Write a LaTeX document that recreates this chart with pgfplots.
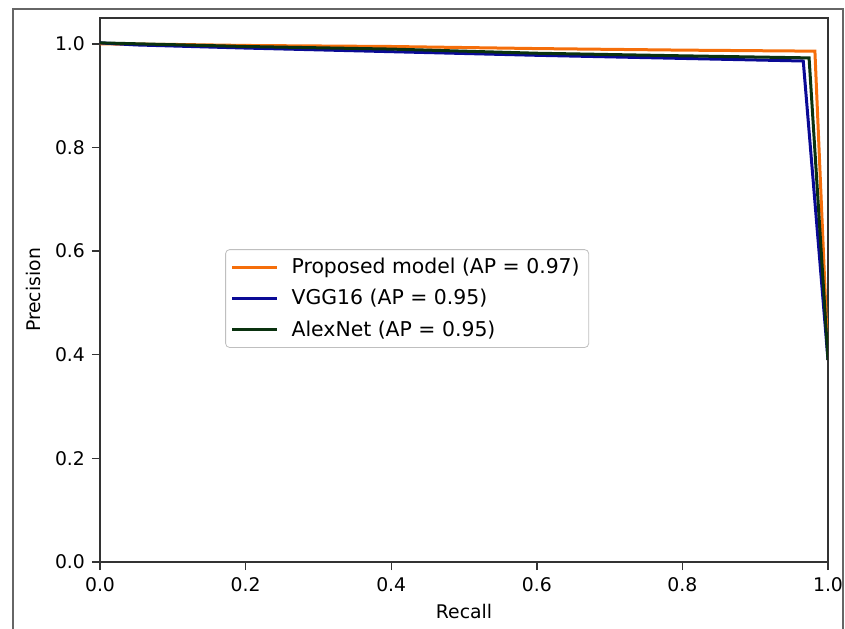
\documentclass[border=0pt]{standalone}
\usepackage{pgfplots}
\pgfplotsset{compat=1.18}
\usepackage{fontspec}
\setmainfont{DejaVu Sans}

\definecolor{propc}{RGB}{245,110,10}
\definecolor{vggc}{RGB}{10,10,150}
\definecolor{alexc}{RGB}{10,50,15}

\begin{document}
\begin{tikzpicture}
% picture = 845x628 px at 0.5pt per px
\useasboundingbox (0,0) rectangle (422.5pt,314pt);
\draw[black!60, line width=0.7pt] (6.5pt,-2pt) -- (6.5pt,309.5pt) -- (421.5pt,309.5pt) -- (421.5pt,-2pt);

\begin{axis}[
    at={(50pt,33pt)}, anchor=south west,
    scale only axis,
    width=364pt, height=272pt,
    xmin=0, xmax=1,
    ymin=0, ymax=1.05,
    xtick={0,0.2,0.4,0.6,0.8,1.0},
    ytick={0,0.2,0.4,0.6,0.8,1.0},
    /pgf/number format/.cd, fixed, fixed zerofill, precision=1, assume math mode=true,
    /pgfplots/.cd,
    tick label style={font=\fontsize{9.4}{11}\selectfont, text=black},
    label style={font=\fontsize{9.4}{11}\selectfont},
    xlabel={Recall},
    ylabel={Precision},
    xlabel style={at={(axis description cs:0.5,-0.103)}, anchor=base},
    ylabel style={at={(axis description cs:-0.082,0.5)}, anchor=base},
    axis line style={draw=black!80, line width=0.7pt},
    tick style={draw=black!80, line width=0.7pt},
    tick align=outside,
    major tick length=4pt,
    xtick pos=bottom, ytick pos=left,
    legend cell align=left,
    legend style={
        at={(0.172,0.575)}, anchor=north west,
        draw=black!25, rounded corners=2pt,
        font=\fontsize{10.2}{12}\selectfont,
        inner xsep=2.5pt, inner ysep=2pt,
        row sep=2pt,
        nodes={inner xsep=2pt, inner ysep=2.2pt},
    },
    legend image code/.code={\draw[#1] (0pt,0pt) -- (22.5pt,0pt); \path (27pt,0pt);},
    every axis plot/.append style={line width=1.5pt, line join=miter},
]
\addplot[color=propc] coordinates {
    (0,1.000) (0.1,0.999) (0.2,0.997) (0.4,0.995) (0.6,0.991)
    (0.8,0.988) (0.982,0.986) (1.0,0.39)
};
\addlegendentry{Proposed model (AP = 0.97)}
\addplot[color=vggc] coordinates {
    (0,1.002) (0.05,0.998) (0.2,0.992) (0.4,0.985) (0.6,0.978)
    (0.8,0.972) (0.966,0.967) (1.0,0.39)
};
\addlegendentry{VGG16 (AP = 0.95)}
\addplot[color=alexc] coordinates {
    (0,1.002) (0.2,0.995) (0.4,0.990) (0.6,0.982)
    (0.8,0.977) (0.974,0.973) (1.0,0.39)
};
\addlegendentry{AlexNet (AP = 0.95)}
\end{axis}
\end{tikzpicture}
\end{document}
